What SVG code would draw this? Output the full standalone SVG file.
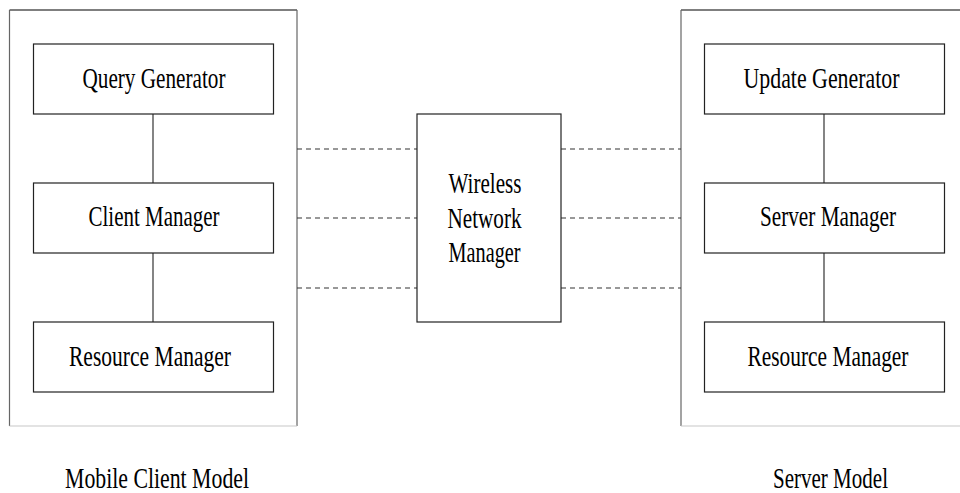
<svg xmlns="http://www.w3.org/2000/svg" width="960" height="493" viewBox="0 0 960 493">
  <style>
    .box { fill: #ffffff; stroke: #222222; stroke-width: 1.2; }
    .label { font-family: 'Liberation Serif', 'DejaVu Serif', 'Times New Roman', Times, serif; font-size: 29px; fill: #000000; }
    .link { stroke: #333333; stroke-width: 1.2; fill: none; }
    .wire { stroke: #333333; stroke-width: 1.2; stroke-dasharray: 5 4; fill: none; }
    .edge-top { stroke: #000000; stroke-width: 1.2; }
    .edge-side { stroke: #666666; stroke-width: 1.2; }
    .edge-bottom { stroke: #c8c8c8; stroke-width: 1.2; }
  </style>
  <rect width="960" height="493" fill="#ffffff"/>

  <!-- Mobile client container -->
  <g id="client-model">
    <line class="edge-top" x1="9.5" y1="10" x2="297" y2="10"/>
    <line class="edge-side" x1="9.5" y1="10" x2="9.5" y2="426"/>
    <line class="edge-side" x1="297" y1="10" x2="297" y2="426"/>
    <line class="edge-bottom" x1="9.5" y1="426" x2="297" y2="426"/>
    <text class="label" font-family="Liberation Serif, serif" x="65" y="488" textLength="184" lengthAdjust="spacingAndGlyphs">Mobile Client Model</text>
  </g>

  <!-- Server container -->
  <g id="server-model">
    <line class="edge-top" x1="681" y1="10" x2="960" y2="10"/>
    <line class="edge-side" x1="681" y1="10" x2="681" y2="426"/>
    <line class="edge-bottom" x1="681" y1="426" x2="960" y2="426"/>
    <text class="label" font-family="Liberation Serif, serif" x="773" y="488" textLength="115" lengthAdjust="spacingAndGlyphs">Server Model</text>
  </g>

  <!-- Connectors -->
  <g id="connectors">
    <line class="link" x1="153" y1="114" x2="153" y2="183"/>
    <line class="link" x1="153" y1="253" x2="153" y2="322"/>
    <line class="link" x1="824" y1="114" x2="824" y2="183"/>
    <line class="link" x1="824" y1="253" x2="824" y2="322"/>
    <line class="wire" x1="297" y1="149" x2="417" y2="149"/>
    <line class="wire" x1="297" y1="218" x2="417" y2="218"/>
    <line class="wire" x1="297" y1="288" x2="417" y2="288"/>
    <line class="wire" x1="561" y1="149" x2="681" y2="149"/>
    <line class="wire" x1="561" y1="218" x2="681" y2="218"/>
    <line class="wire" x1="561" y1="288" x2="681" y2="288"/>
  </g>

  <!-- Client side nodes -->
  <g id="query-generator">
    <rect class="box" x="33.5" y="44" width="240" height="70"/>
    <text class="label" font-family="Liberation Serif, serif" x="82.5" y="88" textLength="143" lengthAdjust="spacingAndGlyphs">Query Generator</text>
  </g>
  <g id="client-manager">
    <rect class="box" x="33.5" y="183" width="240" height="70"/>
    <text class="label" font-family="Liberation Serif, serif" x="88.5" y="226" textLength="131" lengthAdjust="spacingAndGlyphs">Client Manager</text>
  </g>
  <g id="client-resource-manager">
    <rect class="box" x="33.5" y="322" width="240" height="70"/>
    <text class="label" font-family="Liberation Serif, serif" x="69" y="366" textLength="162" lengthAdjust="spacingAndGlyphs">Resource Manager</text>
  </g>

  <!-- Wireless network node -->
  <g id="wireless-network-manager">
    <rect class="box" x="417" y="114" width="144" height="208"/>
    <text class="label" font-family="Liberation Serif, serif" x="448.5" y="193" textLength="73" lengthAdjust="spacingAndGlyphs">Wireless</text>
    <text class="label" font-family="Liberation Serif, serif" x="447.5" y="228" textLength="74" lengthAdjust="spacingAndGlyphs">Network</text>
    <text class="label" font-family="Liberation Serif, serif" x="448.5" y="262" textLength="72" lengthAdjust="spacingAndGlyphs">Manager</text>
  </g>

  <!-- Server side nodes -->
  <g id="update-generator">
    <rect class="box" x="704.5" y="44" width="240" height="70"/>
    <text class="label" font-family="Liberation Serif, serif" x="743.5" y="88" textLength="156" lengthAdjust="spacingAndGlyphs">Update Generator</text>
  </g>
  <g id="server-manager">
    <rect class="box" x="704.5" y="183" width="240" height="70"/>
    <text class="label" font-family="Liberation Serif, serif" x="760" y="226" textLength="136" lengthAdjust="spacingAndGlyphs">Server Manager</text>
  </g>
  <g id="server-resource-manager">
    <rect class="box" x="704.5" y="322" width="240" height="70"/>
    <text class="label" font-family="Liberation Serif, serif" x="747.5" y="366" textLength="161" lengthAdjust="spacingAndGlyphs">Resource Manager</text>
  </g>
</svg>
